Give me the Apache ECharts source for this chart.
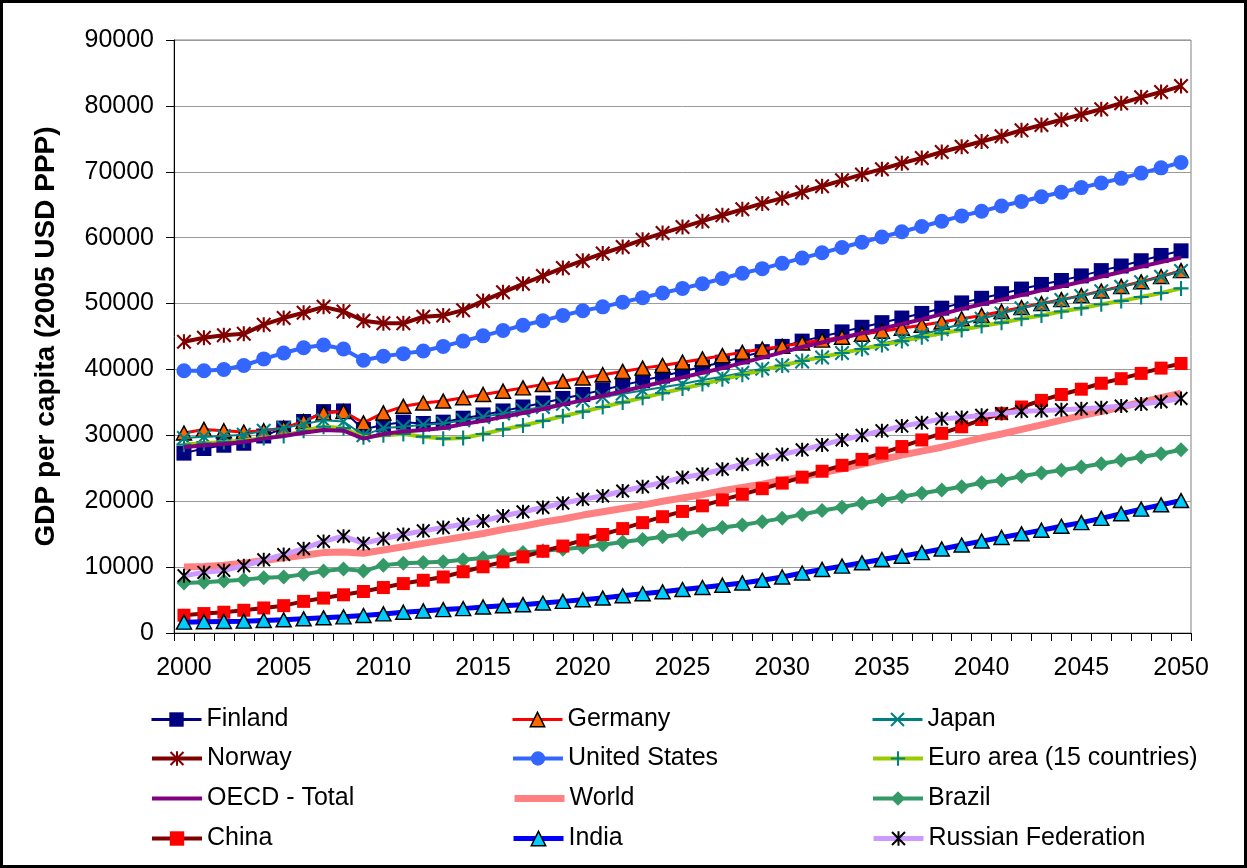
<!DOCTYPE html>
<html><head><meta charset="utf-8">
<script src="https://cdn.jsdelivr.net/npm/echarts@6/dist/echarts.min.js"></script>
<style>html,body{margin:0;padding:0;background:#fff}#c{width:1247px;height:868px}</style>
</head><body><div id="c"></div>
<script>
const years = ['2000','2001','2002','2003','2004','2005','2006','2007','2008','2009',
 '2010','2011','2012','2013','2014','2015','2016','2017','2018','2019',
 '2020','2021','2022','2023','2024','2025','2026','2027','2028','2029',
 '2030','2031','2032','2033','2034','2035','2036','2037','2038','2039',
 '2040','2041','2042','2043','2044','2045','2046','2047','2048','2049','2050'];
const yTicks = [0,10000,20000,30000,40000,50000,60000,70000,80000,90000];

const finland = [27300,28000,28500,28800,29900,31100,32100,33600,33700,30900,
 31600,32000,31800,32000,32600,33100,33700,34300,34900,35600,
 36200,36900,37600,38300,39000,39700,40400,41100,41900,42700,
 43500,44300,45000,45700,46400,47100,47800,48500,49300,50100,
 50800,51500,52200,52900,53500,54200,55000,55700,56500,57300,58000];
const germany = [30350,30900,30700,30500,30700,31100,32100,33400,33600,31900,
 33400,34400,34900,35200,35700,36200,36700,37200,37700,38200,
 38700,39200,39700,40200,40600,41100,41600,42100,42600,43100,
 43500,44000,44450,44900,45350,45800,46250,46700,47200,47700,
 48200,48800,49400,50000,50600,51200,51900,52600,53300,54100,55000];
const japan = [29600,29800,29900,30100,30700,31100,31700,32300,32100,30000,
 31100,31300,31600,31800,32300,32800,33300,33800,34300,34800,
 35300,35800,36300,36800,37300,37800,38400,38900,39500,40100,
 40600,41200,41800,42500,43200,43900,44600,45300,46100,46900,
 47700,48500,49300,49950,50550,51150,51850,52550,53250,54050,54950];
const norway = [44200,44800,45200,45400,46800,47800,48600,49500,48800,47400,
 47000,47000,48000,48200,49000,50400,51700,53000,54200,55400,
 56500,57600,58600,59700,60700,61600,62500,63400,64300,65200,
 66000,66900,67800,68700,69600,70400,71300,72100,73000,73800,
 74600,75400,76300,77100,77900,78700,79500,80400,81300,82100,83000];
const unitedStates = [39800,39800,40000,40600,41600,42500,43300,43700,43100,41400,
 42000,42400,42800,43500,44300,45100,45900,46700,47400,48200,
 48900,49500,50200,50900,51600,52300,53000,53800,54600,55300,
 56100,56900,57700,58500,59300,60100,60900,61700,62500,63300,
 64000,64800,65500,66200,66900,67600,68300,69000,69800,70600,71400];
const euroArea = [28600,28800,29000,29200,29600,29900,30700,31300,31100,29700,
 30000,30200,29800,29500,29600,30200,30900,31500,32200,32900,
 33600,34300,35000,35700,36400,37100,37800,38500,39200,39900,
 40600,41300,41900,42500,43100,43700,44300,44900,45500,46000,
 46600,47100,47700,48200,48800,49300,49900,50400,51000,51600,52300];
const oecdTotal = [28200,28500,28700,29000,29500,29900,30400,30800,30700,29500,
 30200,30600,30800,31100,31700,32200,32800,33400,34000,34700,
 35300,36000,36700,37400,38100,38800,39500,40200,41000,41800,
 42600,43400,44100,44800,45500,46200,46900,47600,48400,49200,
 49900,50600,51300,52000,52600,53300,54100,54800,55600,56300,57000];
const world = [10000,10100,10300,10600,11000,11400,11800,12200,12300,12100,
 12600,13100,13600,14100,14600,15100,15700,16200,16800,17300,
 17900,18400,18900,19400,20000,20500,21000,21600,22100,22600,
 23200,23700,24300,24900,25600,26300,27000,27600,28200,28900,
 29600,30200,30900,31600,32300,33000,33600,34300,35000,35700,36400];
const brazil = [7600,7700,7900,8100,8400,8500,8900,9400,9700,9400,
 10300,10600,10700,10800,11100,11400,11800,12200,12500,12700,
 13000,13400,13800,14200,14600,15000,15500,16000,16400,16900,
 17400,18000,18600,19100,19700,20200,20700,21200,21700,22200,
 22800,23200,23800,24300,24700,25200,25700,26200,26700,27200,27800];
const china = [2700,2950,3150,3450,3800,4150,4800,5300,5800,6300,
 6900,7500,8000,8500,9300,10050,10800,11550,12400,13200,
 14100,14950,15850,16750,17650,18450,19300,20200,21050,21900,
 22750,23650,24550,25450,26350,27300,28300,29300,30300,31300,
 32400,33300,34300,35300,36200,37000,37900,38600,39400,40200,40900];
const india = [1650,1700,1750,1800,1900,2000,2150,2300,2450,2650,
 2900,3150,3350,3550,3700,3950,4150,4300,4550,4800,
 5050,5300,5650,5950,6250,6600,6900,7250,7600,8000,
 8500,9100,9650,10150,10650,11150,11650,12200,12750,13350,
 13950,14500,15050,15600,16200,16750,17400,18100,18800,19450,20100];
const russia = [8700,9200,9500,10200,11100,11900,12800,13900,14700,13600,
 14300,14950,15500,16000,16500,17000,17750,18400,19050,19700,
 20300,20800,21550,22200,22850,23600,24100,24850,25600,26350,
 27100,27800,28550,29300,30000,30700,31400,31900,32500,32700,
 33050,33300,33650,33750,33900,34050,34200,34450,34750,35100,35600];

const FONT = '"Liberation Sans", Arial, Helvetica, sans-serif';
const X_PATH = 'path://M0,10L10,0L50,40L90,0L100,10L60,50L100,90L90,100L50,60L10,100L0,90L40,50Z';
const PLUS_PATH = 'path://M43,0L57,0L57,43L100,43L100,57L57,57L57,100L43,100L43,57L0,57L0,43L43,43Z';
const STAR_PATH = 'path://M0,10L10,0L50,40L90,0L100,10L60,50L100,90L90,100L50,60L10,100L0,90L40,50Z M43,0L57,0L57,100L43,100Z';

const defs = [
  {name:'Finland', data:finland, line:'#000080', w:2, symbol:'rect', size:15, fill:'#000080'},
  {name:'Germany', data:germany, line:'#FF0000', w:3, symbol:'triangle', size:[15,14], fill:'#FF6600', border:'#000000'},
  {name:'Japan', data:japan, line:'#008080', w:2, symbol:X_PATH, size:15, fill:'#008080'},
  {name:'Norway', data:norway, line:'#800000', w:4, symbol:STAR_PATH, size:15, fill:'#800000'},
  {name:'United States', data:unitedStates, line:'#3366FF', w:4, symbol:'circle', size:15, fill:'#3366FF'},
  {name:'Euro area (15 countries)', data:euroArea, line:'#99CC00', w:4, symbol:PLUS_PATH, size:15, fill:'#008080'},
  {name:'OECD - Total', data:oecdTotal, line:'#800080', w:4, symbol:'none'},
  {name:'World', data:world, line:'#FF8080', w:7, symbol:'none'},
  {name:'Brazil', data:brazil, line:'#339966', w:4, symbol:'diamond', size:[15,15], fill:'#339966'},
  {name:'China', data:china, line:'#800000', w:4, symbol:'rect', size:13, fill:'#FF0000'},
  {name:'India', data:india, line:'#0000FF', w:5, symbol:'triangle', size:[15,14], fill:'#00CCFF', border:'#000000'},
  {name:'Russian Federation', data:russia, line:'#CC99FF', w:5, symbol:STAR_PATH, size:14, fill:'#000000'}
];

const legendCols = [150, 511, 871];
const legendRows = [719, 758, 798, 838];

const series = defs.map((d, i) => ({
  type: 'line', name: d.name, data: d.data, z: 2 + i,
  symbol: d.symbol, symbolSize: d.size || 10, showSymbol: d.symbol !== 'none', showAllSymbol: true,
  lineStyle: {color: d.line, width: d.w},
  itemStyle: {color: d.fill || d.line, borderColor: d.border || d.fill || d.line, borderWidth: d.border ? 1.5 : 0},
  emphasis: {disabled: true}, silent: true
}));

const legends = defs.map((d, i) => ({
  data: [d.name], left: legendCols[i % 3], top: legendRows[Math.floor(i / 3)] - 12,
  padding: 0, itemWidth: 50, itemHeight: 18, selectedMode: false,
  lineStyle: {color: d.line, width: Math.max(d.w, 3)},
  itemStyle: d.symbol === 'none'
    ? {opacity: 0}
    : {color: d.fill, borderColor: d.border || d.fill, borderWidth: d.border ? 1.5 : 0},
  textStyle: {fontSize: 25, fontFamily: FONT, color: '#000', lineHeight: 25}
}));

const chart = echarts.init(document.getElementById('c'), null, {renderer: 'canvas'});
chart.setOption({
  animation: false,
  backgroundColor: '#fff',
  grid: {left: 174, top: 40, right: 56, bottom: 235, show: true, borderColor: '#808080', borderWidth: 1, backgroundColor: '#fff'},
  xAxis: {
    type: 'category', data: years, boundaryGap: true,
    axisLine: {lineStyle: {color: '#000', width: 1}},
    axisTick: {show: true, interval: 0, length: 8, lineStyle: {color: '#000'}},
    axisLabel: {interval: 4, fontSize: 25, fontFamily: FONT, color: '#000', margin: 23},
    splitLine: {show: false}
  },
  yAxis: {
    type: 'value', min: yTicks[0], max: yTicks[yTicks.length - 1], interval: yTicks[1] - yTicks[0],
    name: 'GDP per capita (2005 USD PPP)', nameLocation: 'middle', nameGap: 114,
    nameTextStyle: {fontSize: 28, fontWeight: 'bold', fontFamily: FONT, color: '#000'},
    axisLine: {show: true, lineStyle: {color: '#000', width: 1}},
    axisTick: {show: true, length: 8, lineStyle: {color: '#000'}},
    axisLabel: {fontSize: 25, fontFamily: FONT, color: '#000', margin: 20, formatter: v => String(v)},
    splitLine: {show: true, lineStyle: {color: '#9a9a9a', width: 1}}
  },
  legend: legends,
  series: series,
  graphic: [{type: 'rect', silent: true, z: 100, shape: {x: 1.5, y: 1.5, width: 1244, height: 865}, style: {fill: 'none', stroke: '#000', lineWidth: 3}}]
});
</script></body></html>
